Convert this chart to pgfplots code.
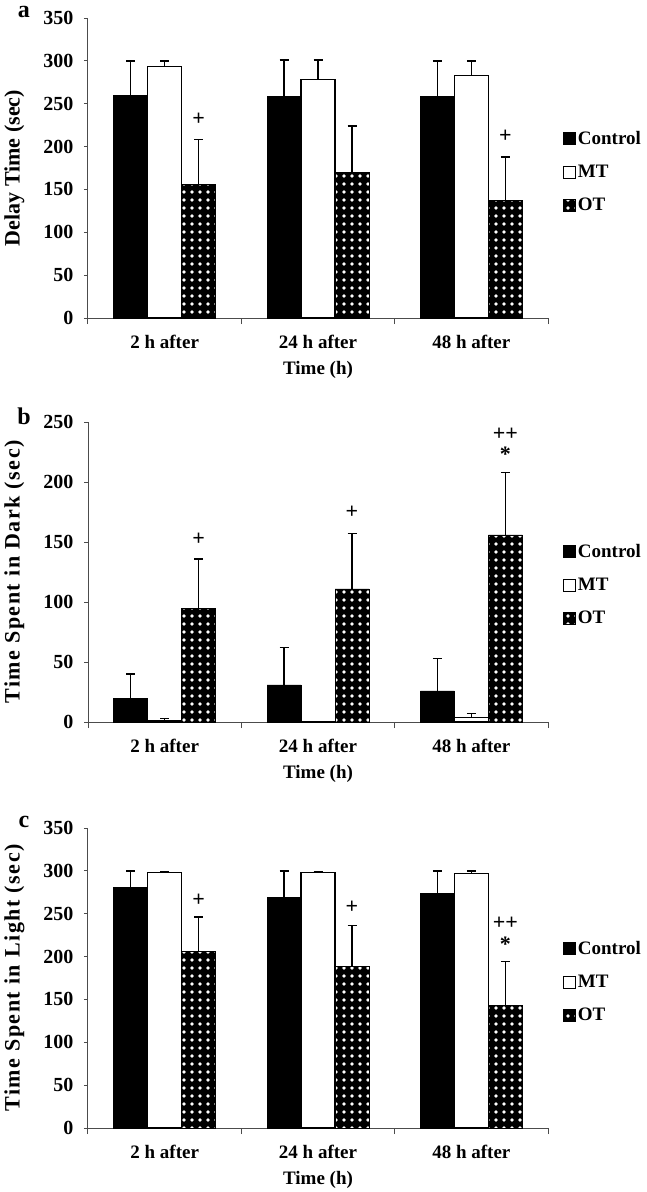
\documentclass[border=0pt]{standalone}
\usepackage{fontspec}
\setmainfont{Liberation Serif}
\newfontfamily\spacedfont{Liberation Serif}[LetterSpace=7]
\usepackage{pgfplots}
\pgfplotsset{compat=1.18}
\usetikzlibrary{patterns.meta}

\newcommand{\bigfont}{\bfseries\fontsize{19}{22}\selectfont}
\newcommand{\signfont}{\bfseries\fontsize{22}{24}\selectfont}

\tikzset{sign/.style={font=\signfont, inner sep=0pt}}

\pgfplotsset{
  panel/.style={
    ybar, bar width=34pt, clip=false,
    width=460pt, height=300pt, scale only axis,
    xmin=-0.5, xmax=2.5, enlarge x limits=false,
    ymin=0, ytick distance=50,
    axis lines*=left,
    axis line style={draw=gray!60!black, line width=1pt},
    xtick={0,1,2}, xticklabels={2 h after,24 h after,48 h after},
    major x tick style={draw=none},
    minor xtick={-0.5,0.5,1.5,2.5},
    tick align=outside,
    major tick length=4pt, minor tick length=6pt,
    tick style={gray!60!black, line width=1pt},
    tick label style={font=\bigfont},
    yticklabel style={font=\bfseries\fontsize{20}{22}\selectfont, xshift=-7pt},
    /pgf/number format/assume math mode=true,
    xticklabel style={yshift=-10pt},
    xlabel={Time (h)},
    xlabel style={font=\bigfont, at={(axis description cs:0.5,-0.173)}, anchor=center},
    ylabel style={font=\bfseries\fontsize{22}{24}\selectfont, at={(axis description cs:-0.16,0.5)}, anchor=center},
    legend style={draw=none, fill=none, anchor=west, font=\bigfont,
      legend cell align=left, row sep=15pt},
    legend image code/.code={\draw[#1, draw=black, line width=0.8pt] (0pt,-6pt) rectangle (12pt,6pt);},
    error bars/y dir=plus, error bars/y explicit,
    error bars/error mark=-,
    error bars/error mark options={rotate=90, mark size=4.5pt, line width=1.5pt, black},
    error bars/error bar style={line width=1.5pt, black},
  },
  ctrl/.style={fill=black, draw=black, bar shift=-34pt},
  mt/.style={fill=white, draw=black, line width=1.2pt, bar shift=0pt},
  ot/.style={fill=black, draw=black, bar shift=34pt,
    postaction={pattern={Dots[distance=8pt, radius=1.8pt]}, pattern color=white}},
}

\begin{document}
\begin{tikzpicture}
\useasboundingbox (0,0) rectangle (646pt,-1192pt);

% a: delay time
\begin{axis}[panel, at={(88pt,-318pt)}, anchor=south west,
    ymax=350, ylabel={Delay Time (sec)},
    legend style={at={(1.026,0.487)}}]
  \addplot[ctrl] coordinates {(0,260) +- (0,40) (1,259) +- (0,42) (2,259) +- (0,41)};
  \addplot[mt] coordinates {(0,293) +- (0,7) (1,278) +- (0,23) (2,283) +- (0,17)};
  \addplot[ot] coordinates {(0,156) +- (0,52) (1,170) +- (0,54) (2,137) +- (0,51)};
  \legend{Control, MT, OT}
  \node[sign] at (axis cs:0,232) [xshift=34pt] {+};
  \node[sign] at (axis cs:2,212) [xshift=34pt] {+};
  \node[font=\bfseries\fontsize{24}{26}\selectfont] at (rel axis cs:0,1) [xshift=-64pt, yshift=6pt] {a};
\end{axis}

% b: time in dark
\begin{axis}[panel, at={(88pt,-722pt)}, anchor=south west,
    ymax=250, ylabel={\spacedfont Time Spent in Dark (sec)},
    legend style={at={(1.026,0.458)}}]
  \addplot[ctrl] coordinates {(0,20) +- (0,20) (1,31) +- (0,31) (2,26) +- (0,27)};
  \addplot[mt] coordinates {(0,1.4) +- (0,1.7) (1,0.5) +- (0,0) (2,3.6) +- (0,3.7)};
  \addplot[ot] coordinates {(0,95) +- (0,41) (1,111) +- (0,46) (2,156) +- (0,52)};
  \legend{Control, MT, OT}
  \node[sign] at (axis cs:0,152) [xshift=34pt] {+};
  \node[sign] at (axis cs:1,175) [xshift=34pt] {+};
  \node[sign] at (axis cs:2,240) [xshift=34pt] {++};
  \node[sign] at (axis cs:2,223) [xshift=34pt] {*};
  \node[font=\bfseries\fontsize{24}{26}\selectfont] at (rel axis cs:0,1) [xshift=-64pt, yshift=6pt] {b};
\end{axis}

% c: time in light
\begin{axis}[panel, at={(88pt,-1128pt)}, anchor=south west,
    ymax=350, ylabel={\spacedfont Time Spent in Light (sec)},
    legend style={at={(1.026,0.488)}}]
  \addplot[ctrl] coordinates {(0,281) +- (0,19) (1,269) +- (0,31) (2,274) +- (0,26)};
  \addplot[mt] coordinates {(0,298) +- (0,1) (1,298) +- (0,1) (2,297) +- (0,3)};
  \addplot[ot] coordinates {(0,206) +- (0,40) (1,189) +- (0,47) (2,143) +- (0,51)};
  \legend{Control, MT, OT}
  \node[sign] at (axis cs:0,266) [xshift=34pt] {+};
  \node[sign] at (axis cs:1,258) [xshift=34pt] {+};
  \node[sign] at (axis cs:2,239) [xshift=34pt] {++};
  \node[sign] at (axis cs:2,214) [xshift=34pt] {*};
  \node[font=\bfseries\fontsize{24}{26}\selectfont] at (rel axis cs:0,1) [xshift=-64pt, yshift=6pt] {c};
\end{axis}
\end{tikzpicture}
\end{document}
